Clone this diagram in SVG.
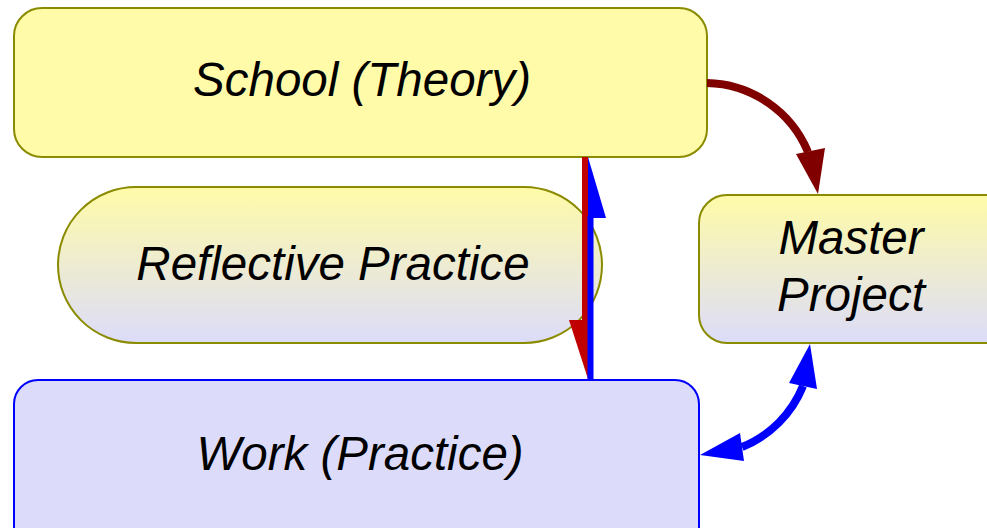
<svg xmlns="http://www.w3.org/2000/svg" width="987" height="528" viewBox="0 0 987 528">
<defs>
<linearGradient id="yb" x1="0" y1="0" x2="0" y2="1">
<stop offset="0" stop-color="#fffba8"/>
<stop offset="1" stop-color="#dcdcfa"/>
</linearGradient>
</defs>
<style>
.lbl{font-family:"Liberation Sans",Arial,sans-serif;font-style:italic;font-size:47.5px;fill:#000;text-anchor:middle}
.olive{stroke:#8b8b00;stroke-width:2}
</style>
<rect width="987" height="528" fill="#fff"/>
<g id="school">
<rect class="olive" x="14" y="8" width="693" height="149" rx="28" fill="#fffba8"/>
<text class="lbl" x="362" y="96">School (Theory)</text>
</g>
<g id="reflective">
<rect class="olive" x="58" y="187" width="544" height="156" rx="78" fill="url(#yb)"/>
<text class="lbl" x="333" y="280">Reflective Practice</text>
</g>
<g id="master">
<rect class="olive" x="699" y="195" width="320" height="148" rx="28" fill="url(#yb)"/>
<text class="lbl" x="851" y="254">Master</text>
<text class="lbl" x="851" y="311">Project</text>
</g>
<g id="work">
<rect x="14" y="380" width="685" height="180" rx="24" fill="#dcdcfa" stroke="#0000ff" stroke-width="2"/>
<text class="lbl" x="360" y="470">Work (Practice)</text>
</g>
<g id="connectors">
<line x1="585" y1="157" x2="585" y2="322" stroke="#c00000" stroke-width="6"/>
<polygon points="569,320 588,320 588,379" fill="#c00000"/>
<line x1="590.5" y1="216" x2="590.5" y2="380" stroke="#0000ff" stroke-width="6"/>
<polygon points="588,157 606,218 588,218" fill="#0000ff"/>
<path d="M707,83 A112,112 0 0 1 808,152" fill="none" stroke="#800000" stroke-width="8"/>
<polygon points="818,194 796,154 825,148" fill="#800000"/>
<path d="M803,386 A110,110 0 0 1 742,447" fill="none" stroke="#0000ff" stroke-width="8"/>
<polygon points="810,344 789,383 817,389" fill="#0000ff"/>
<polygon points="700,455 740,433 744,461" fill="#0000ff"/>
</g>
</svg>
